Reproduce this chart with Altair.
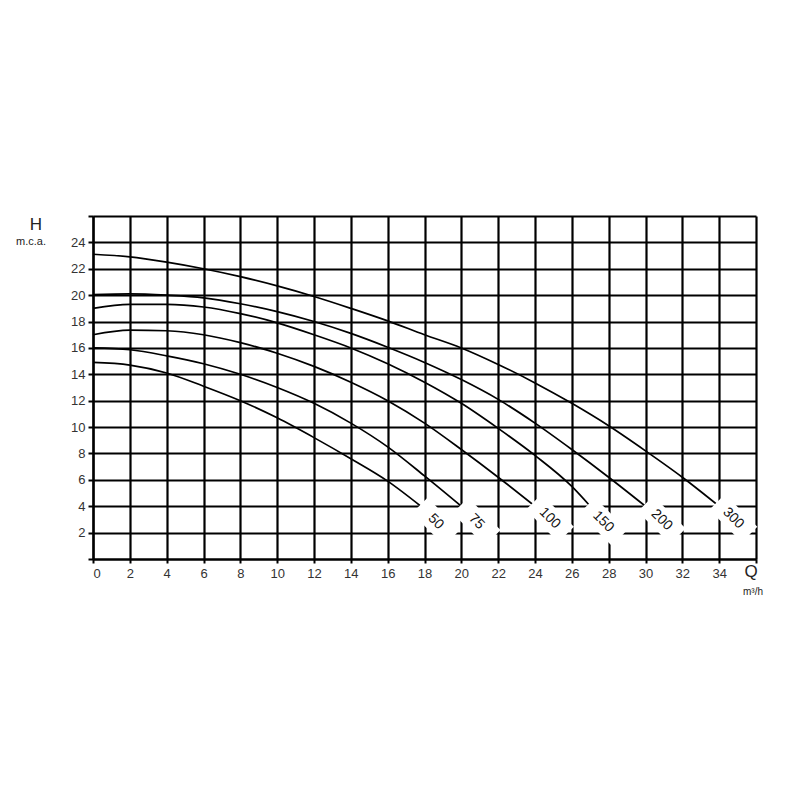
import altair as alt
import pandas as pd

# ---- data ----
curve_names = ["50", "75", "100", "150", "200", "300"]

q_50 = [0, 2, 4, 6, 8, 10, 12, 14, 16, 17.8]
h_50 = [14.9, 14.7, 14.1, 13.1, 12.0, 10.7, 9.2, 7.6, 5.9, 4.0]

q_75 = [0, 2, 4, 6, 8, 10, 12, 14, 16, 18, 20]
h_75 = [16.0, 15.86, 15.4, 14.8, 14.0, 13.0, 11.8, 10.3, 8.5, 6.3, 4.0]

q_100 = [0, 2, 4, 6, 8, 10, 12, 14, 16, 18, 20, 22, 24]
h_100 = [17.0, 17.35, 17.3, 17.0, 16.4, 15.6, 14.6, 13.4, 12.0, 10.3, 8.3, 6.2, 4.0]

q_150 = [0, 2, 4, 6, 8, 10, 12, 14, 16, 18, 20, 22, 24, 26, 27]
h_150 = [19.0, 19.3, 19.3, 19.1, 18.6, 17.9, 17.0, 16.0, 14.8, 13.4, 11.8, 9.9, 7.85, 5.5, 4.0]

q_200 = [0, 2, 4, 6, 8, 10, 12, 14, 16, 18, 20, 22, 24, 26, 28, 30]
h_200 = [20.05, 20.1, 20.0, 19.8, 19.35, 18.75, 18.0, 17.1, 16.05, 14.9, 13.6, 12.1, 10.3, 8.3, 6.2, 4.0]

q_300 = [0, 2, 4, 6, 8, 10, 12, 14, 16, 18, 20, 22, 24, 26, 28, 30, 32, 34]
h_300 = [23.1, 22.9, 22.5, 22.0, 21.4, 20.7, 19.9, 19.0, 18.05, 17.0, 16.0, 14.75, 13.35, 11.8, 10.1, 8.2, 6.2, 4.0]

label_text = ["50", "75", "100", "150", "200", "300"]
label_q = [18.62, 20.83, 24.81, 27.71, 30.88, 34.77]
label_h = [2.83, 2.83, 3.09, 2.83, 2.96, 3.09]

x_ticks = list(range(0, 37, 2))
y_ticks = list(range(0, 27, 2))

# ---- build tables ----
qs = [q_50, q_75, q_100, q_150, q_200, q_300]
hs = [h_50, h_75, h_100, h_150, h_200, h_300]
rows = []
for name, ql, hl in zip(curve_names, qs, hs):
    for i, (q, h) in enumerate(zip(ql, hl)):
        rows.append({"curve": name, "q": q, "h": h, "order": i})
curves = pd.DataFrame(rows)
labels = pd.DataFrame({"label": label_text, "q": label_q, "h": label_h})

FONT = "Liberation Sans"

x_enc = alt.X(
    "q:Q",
    scale=alt.Scale(domain=[0, 36], nice=False, zero=False),
    axis=alt.Axis(
        values=x_ticks,
        labelExpr="datum.value == 36 ? '' : datum.label",
        labelOverlap=False,
        grid=True, gridColor="black", gridWidth=2.2, gridOpacity=1,
        domainColor="black", domainWidth=2.2,
        tickColor="black", tickSize=4, tickWidth=2,
        labelFont=FONT, labelFontSize=13, labelColor="#333", labelPadding=4,
        title=None,
    ),
)
y_enc = alt.Y(
    "h:Q",
    scale=alt.Scale(domain=[0, 26], nice=False, zero=False),
    axis=alt.Axis(
        values=y_ticks,
        labelExpr="(datum.value == 0 || datum.value == 26) ? '' : datum.label",
        labelOverlap=False,
        grid=True, gridColor="black", gridWidth=2.2, gridOpacity=1,
        domainColor="black", domainWidth=2.2,
        tickColor="black", tickSize=5, tickWidth=2,
        labelFont=FONT, labelFontSize=13, labelColor="#333", labelPadding=3,
        title=None,
    ),
)

lines = alt.Chart(curves).mark_line(
    color="black", strokeWidth=1.7, interpolate="monotone"
).encode(x=x_enc, y=y_enc, detail="curve:N", order="order:Q")

box_path = "M -1 -0.48 L 1 -0.48 L 1 0.48 L -1 0.48 Z"
boxes = alt.Chart(labels).mark_point(
    shape=box_path, filled=True, color="white", fill="white",
    opacity=1, strokeWidth=0, size=2100, angle=45
).encode(x=x_enc, y=y_enc)

texts = alt.Chart(labels).mark_text(
    angle=45, font=FONT, fontSize=14, color="#111",
    align="center", baseline="middle"
).encode(x=x_enc, y=y_enc, text="label:N")

def annot(txt, px, py, size):
    return alt.Chart(pd.DataFrame({"t": [txt]})).mark_text(
        font=FONT, fontSize=size, color="#222", align="center", baseline="middle"
    ).encode(x=alt.value(px), y=alt.value(py), text="t:N")

chart = alt.layer(
    lines,
    boxes,
    texts,
    annot("H", -57, 9, 17),
    annot("m.c.a.", -62, 26, 11),
    annot("Q", 658, 356, 17),
    annot("m³/h", 660, 376, 10),
).properties(
    width=663,
    height=343,
    padding={"left": 85, "top": 208, "right": 30, "bottom": 200},
    autosize=alt.AutoSizeParams(type="none"),
    background="white",
).configure_view(strokeWidth=0)

chart.save("out.html", embed_options={"renderer": "svg", "actions": False})
